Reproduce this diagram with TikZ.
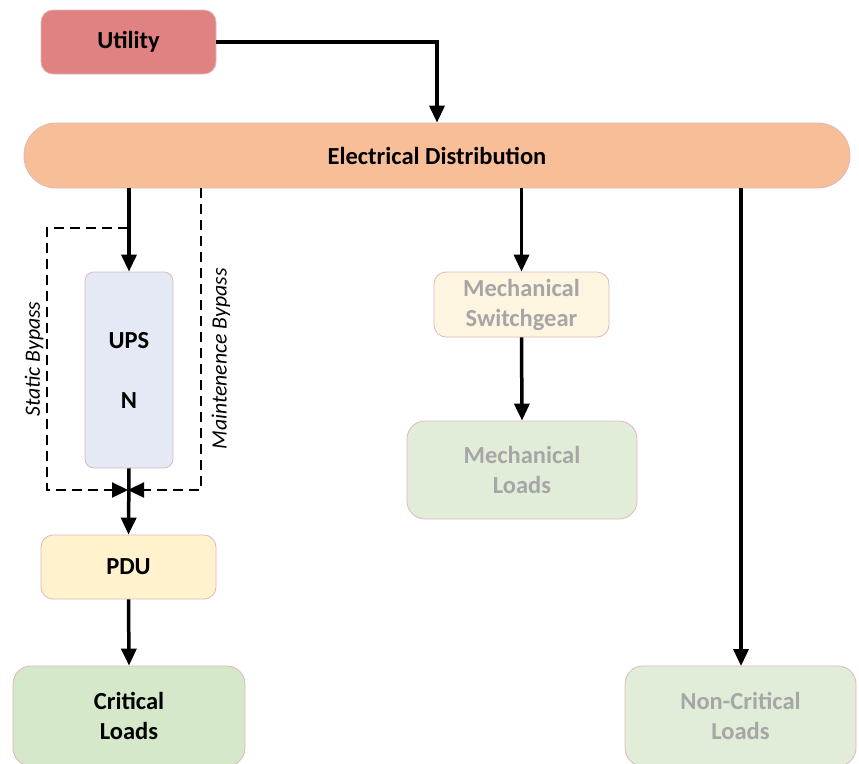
\documentclass[tikz,border=0pt]{standalone}
\usepackage{fontspec}
\setmainfont{Carlito}
\usetikzlibrary{arrows.meta}
\definecolor{utilfill}{HTML}{E08282}
\definecolor{distfill}{HTML}{F7BE98}
\definecolor{upsfill}{HTML}{E4E9F5}
\definecolor{pdufill}{HTML}{FFF2CC}
\definecolor{critfill}{HTML}{D5E8C9}
\definecolor{mechfill}{HTML}{FDF5E0}
\definecolor{paleload}{HTML}{E1EDD8}
\definecolor{boxline}{HTML}{DDB8BC}
\definecolor{dimtext}{HTML}{A6A6A6}
\begin{document}
\begin{tikzpicture}[x=1pt,y=-1pt,
  box/.style={draw=boxline,line width=0.8pt,rounded corners=12pt,inner sep=0pt,
    align=center,font=\fontsize{24.5}{30}\selectfont\bfseries},
  flow/.style={line width=3.5pt,-{Triangle[length=17pt,width=15pt]}},
  bypass/.style={line width=2.4pt,dash pattern=on 10pt off 6pt,
    -{Triangle[length=16pt,width=15pt]}},
  side/.style={font=\fontsize{21.8}{26}\selectfont\itshape,rotate=90}]
\useasboundingbox (0,0) rectangle (859,763);

% boxes
\node[box,fill=utilfill,minimum width=175pt,minimum height=64pt] (util) at (128.5,42) {Utility};
\node[box,fill=distfill,rounded corners=32pt,minimum width=826pt,minimum height=65pt] (ed) at (437,155.5) {Electrical Distribution};
\node[box,fill=upsfill,rounded corners=9pt,minimum width=88pt,minimum height=196pt] (ups) at (129,370) {UPS\\[30pt]N};
\node[box,fill=pdufill,minimum width=175pt,minimum height=64pt] (pdu) at (128.5,567) {PDU};
\node[box,fill=critfill,rounded corners=18pt,minimum width=232pt,minimum height=100pt] (crit) at (129,716) {Critical\\Loads};
\node[box,fill=mechfill,text=dimtext,minimum width=175pt,minimum height=65pt] (msw) at (521.5,304.5) {Mechanical\\Switchgear};
\node[box,fill=paleload,text=dimtext,rounded corners=18pt,minimum width=230pt,minimum height=98pt] (mld) at (522,470) {Mechanical\\Loads};
\node[box,fill=paleload,text=dimtext,rounded corners=18pt,minimum width=231pt,minimum height=100pt] (ncl) at (740.5,716) {Non-Critical\\Loads};

% junction below the UPS where both bypasses rejoin
\coordinate (join) at (128,490);

% bypass paths
\draw[bypass] (128,228) -| (47,490) -- (join);
\draw[bypass] (201,188) |- (join);
\node[side] (sbl) at (34,359) {Static Bypass};
\node[side] (mbl) at (221,359) {Maintenence Bypass};

% main power flow
\draw[flow] (util.east) -| (ed.north);
\draw[flow] (ups.north |- ed.south) -- (ups.north);
\draw[flow] (msw.north |- ed.south) -- (msw.north);
\draw[flow] (msw.south) -- (mld.north);
\draw[flow] (741,188) -- (741,666);
\draw[flow] (ups.south) -- (pdu.north);
\draw[flow] (pdu.south) -- (crit.north);
\end{tikzpicture}
\end{document}
